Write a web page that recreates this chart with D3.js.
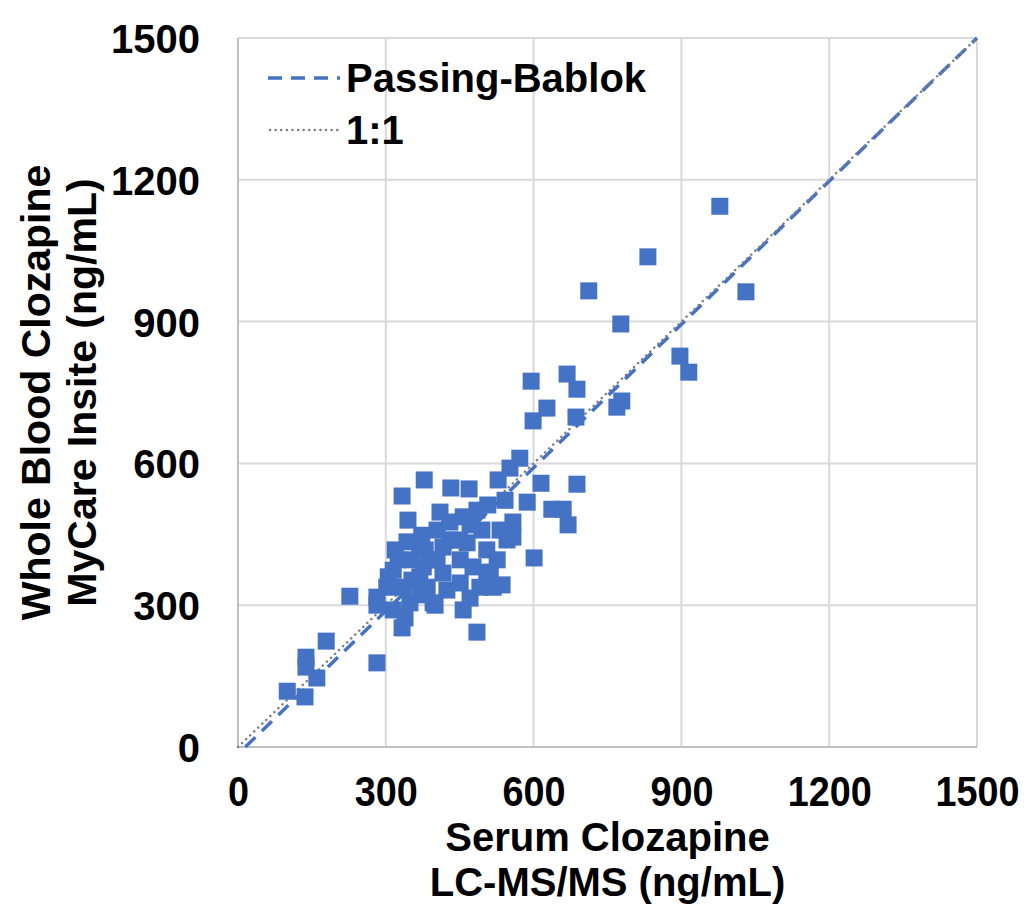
<!DOCTYPE html>
<html>
<head>
<meta charset="utf-8">
<script src="https://cdn.jsdelivr.net/npm/d3@7"></script>
<style>
  html, body { margin: 0; padding: 0; background: #fff; }
  svg text { font-family: "Liberation Sans", Arial, sans-serif; font-weight: bold; fill: #000; }
</style>
</head>
<body>
<div id="chart"></div>
<script>
// Serum clozapine (LC-MS/MS), ng/mL
const serumX = [
  100, 138, 138, 160, 136, 179, 227, 282,
  378, 333, 432, 469, 345, 343, 319, 353, 315, 353, 302, 282,
  282, 315, 339, 333, 404, 430, 457, 485, 404, 451, 369, 416,
  477, 335, 384, 451, 491, 349, 396, 457, 505, 518, 416, 465,
  505, 526, 532, 546, 507, 528, 552, 572, 587, 558, 558, 400,
  485, 536, 601, 376, 615, 688, 637, 660, 670, 369, 380, 430,
  325, 305, 369, 424, 440, 471, 410, 373, 495, 512, 471, 390, 542,
  978, 832, 712, 777, 1031, 897, 915, 668, 688, 627, 686, 769,
  779, 595, 599
];

// Whole blood clozapine (MyCare Insite), ng/mL
const wholeBloodY = [
  118, 190, 169, 146, 106, 224, 319, 178,
  565, 531, 548, 546, 480, 434, 417, 396, 374, 353, 338, 317,
  300, 290, 273, 252, 459, 476, 487, 501, 396, 396, 360, 368,
  381, 338, 338, 347, 338, 305, 305, 290, 368, 338, 423, 432,
  417, 396, 459, 438, 512, 565, 590, 611, 518, 476, 444, 300,
  243, 343, 400, 381, 558, 556, 503, 503, 470, 427, 417, 438,
  396, 360, 322, 332, 438, 470, 497, 448, 459, 370, 315, 396, 522,
  1144, 1037, 965, 895, 963, 827, 793, 789, 757, 717, 698, 719,
  732, 774, 690
];

// Axis ticks
const tickValues = [0, 300, 600, 900, 1200, 1500];

// Regression lines
const pbIntercept = -15;
const pbSlope = 1.01;
const legendLabels = ["Passing-Bablok", "1:1"];

//Set up dimensions
const W = 1024, H = 905;
const margin = {top: 38, right: 47, bottom: 158, left: 238};
const width = W - margin.left - margin.right;
const height = H - margin.top - margin.bottom;

const svg = d3.select("#chart").append("svg")
  .attr("width", W).attr("height", H);

const g = svg.append("g").attr("transform", `translate(${margin.left},${margin.top})`);

//Scales
const x = d3.scaleLinear().domain([0, 1500]).range([0, width]);
const y = d3.scaleLinear().domain([0, 1500]).range([height, 0]);

//Gridlines
g.append("g").selectAll("line").data(tickValues).join("line")
  .attr("x1", d => x(d)).attr("x2", d => x(d))
  .attr("y1", 0).attr("y2", height)
  .attr("stroke", "#d9d9d9").attr("stroke-width", 2);
g.append("g").selectAll("line").data(tickValues).join("line")
  .attr("x1", 0).attr("x2", width)
  .attr("y1", d => y(d)).attr("y2", d => y(d))
  .attr("stroke", "#d9d9d9").attr("stroke-width", 2);

//Axis lines
g.append("line").attr("x1", 0).attr("x2", 0).attr("y1", 0).attr("y2", height)
  .attr("stroke", "#bfbfbf").attr("stroke-width", 2);
g.append("line").attr("x1", 0).attr("x2", width).attr("y1", height).attr("y2", height)
  .attr("stroke", "#bfbfbf").attr("stroke-width", 2);

//Axes tick labels
const xAxis = g.append("g").attr("transform", `translate(0,${height})`)
  .call(d3.axisBottom(x).tickValues(tickValues).tickSize(0).tickPadding(0).tickFormat(d3.format("d")));
xAxis.select(".domain").remove();
xAxis.selectAll(".tick text")
  .attr("y", 0).attr("dy", null).attr("x", 0)
  .attr("font-size", 42)
  .attr("text-anchor", "middle")
  .attr("transform", "translate(0,59) scale(0.9,1)");

const yAxis = g.append("g")
  .call(d3.axisLeft(y).tickValues(tickValues).tickSize(0).tickPadding(38).tickFormat(d3.format("d")));
yAxis.select(".domain").remove();
yAxis.selectAll("text").attr("font-size", 40).attr("dy", "0.36em");

//Passing-Bablok and identity lines (under the markers)
const line = d3.line().x(d => x(d[0])).y(d => y(d[1]));
const x0 = -pbIntercept / pbSlope;
g.append("path")
  .datum([[x0, 0], [1500, pbIntercept + pbSlope * 1500]])
  .attr("fill", "none").attr("stroke", "#4472c4").attr("stroke-width", 3.5)
  .attr("stroke-dasharray", "14,9").attr("d", line);
g.append("path")
  .datum([[0, 0], [1500, 1500]])
  .attr("fill", "none").attr("stroke", "#7f7f7f").attr("stroke-width", 2.5)
  .attr("stroke-linecap", "round")
  .attr("stroke-dasharray", "0.1,5.5").attr("d", line);

//Markers
const s = 17;
g.append("g").selectAll("rect").data(serumX).join("rect")
  .attr("x", (d, i) => x(d) - s / 2)
  .attr("y", (d, i) => y(wholeBloodY[i]) - s / 2)
  .attr("width", s).attr("height", s)
  .attr("fill", "#4472c4");

//Legend
const lg = svg.append("g");
lg.append("line").attr("x1", 268).attr("x2", 340).attr("y1", 78).attr("y2", 78)
  .attr("stroke", "#4472c4").attr("stroke-width", 3.5).attr("stroke-dasharray", "14,9");
lg.append("line").attr("x1", 270).attr("x2", 340).attr("y1", 130).attr("y2", 130)
  .attr("stroke", "#7f7f7f").attr("stroke-width", 2.5).attr("stroke-linecap", "round")
  .attr("stroke-dasharray", "0.1,5.5");
lg.selectAll("text").data(legendLabels).join("text")
  .attr("x", 346).attr("y", (d, i) => 92 + i * 52)
  .attr("font-size", 40).text(d => d);

//Axis titles
const xt = svg.append("text").attr("text-anchor", "middle")
  .attr("transform", `translate(${margin.left + width / 2},0)`)
  .attr("font-size", 40);
xt.append("tspan").attr("x", 0).attr("y", 851).text("Serum Clozapine");
xt.append("tspan").attr("x", 0).attr("y", 896).text("LC-MS/MS (ng/mL)");

const yt = svg.append("text").attr("text-anchor", "middle")
  .attr("transform", `translate(0,${margin.top + height / 2}) rotate(-90)`)
  .attr("font-size", 41);
yt.append("tspan").attr("x", 0).attr("y", 50).text("Whole Blood Clozapine");
yt.append("tspan").attr("x", 0).attr("y", 96).text("MyCare Insite (ng/mL)");
</script>
</body>
</html>
